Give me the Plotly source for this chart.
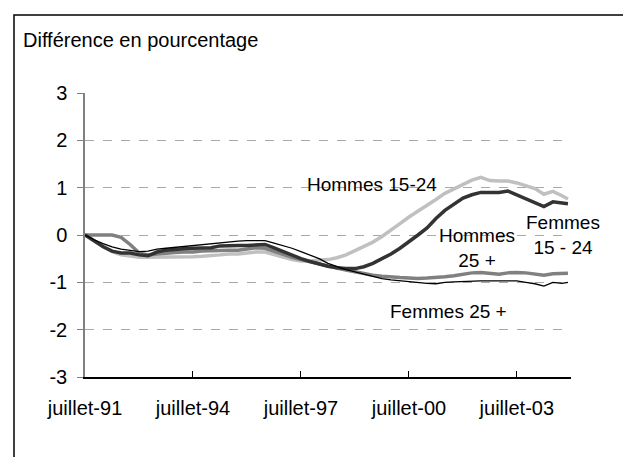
import plotly.graph_objects as go
import pandas as pd

# Quarterly dates Jul 1991 .. Oct 2004, plus Dec 2004
dates = list(pd.date_range("1991-07-01", "2004-10-01", freq="3MS").strftime("%Y-%m-%d")) + ["2004-12-01"]

hommes_15_24 = [0, -0.12, -0.25, -0.35, -0.42, -0.45, -0.47, -0.47, -0.47, -0.46,
                -0.46, -0.46, -0.46, -0.45, -0.44, -0.42, -0.40, -0.40, -0.38, -0.36,
                -0.36, -0.42, -0.48, -0.52, -0.55, -0.55, -0.53, -0.52, -0.48, -0.42,
                -0.33, -0.25, -0.15, -0.03, 0.10, 0.24, 0.38, 0.50, 0.62, 0.75,
                0.88, 0.98, 1.08, 1.16, 1.22, 1.15, 1.14, 1.14, 1.10, 1.04,
                0.98, 0.86, 0.92, 0.83, 0.76]

femmes_15_24 = [0, -0.13, -0.25, -0.34, -0.38, -0.38, -0.42, -0.44, -0.36, -0.32,
                -0.30, -0.29, -0.28, -0.28, -0.27, -0.23, -0.22, -0.22, -0.22, -0.21,
                -0.20, -0.27, -0.35, -0.42, -0.50, -0.56, -0.62, -0.66, -0.69, -0.71,
                -0.71, -0.67, -0.60, -0.50, -0.40, -0.28, -0.15, 0.00, 0.15, 0.35,
                0.52, 0.65, 0.78, 0.85, 0.90, 0.90, 0.90, 0.93, 0.85, 0.77,
                0.70, 0.60, 0.70, 0.68, 0.66]

hommes_25 = [0, 0, 0, 0, -0.05, -0.20, -0.38, -0.42, -0.40, -0.38,
             -0.37, -0.36, -0.36, -0.34, -0.33, -0.33, -0.32, -0.32, -0.30, -0.27,
             -0.28, -0.35, -0.42, -0.47, -0.52, -0.57, -0.62, -0.66, -0.70, -0.74,
             -0.78, -0.82, -0.85, -0.87, -0.89, -0.90, -0.91, -0.92, -0.91, -0.90,
             -0.88, -0.86, -0.83, -0.80, -0.79, -0.81, -0.83, -0.80, -0.79, -0.80,
             -0.82, -0.85, -0.82, -0.81, -0.81]

femmes_25 = [0, -0.10, -0.18, -0.25, -0.30, -0.33, -0.35, -0.34, -0.30, -0.28,
             -0.26, -0.24, -0.22, -0.20, -0.18, -0.16, -0.15, -0.13, -0.12, -0.12,
             -0.12, -0.17, -0.22, -0.28, -0.35, -0.42, -0.50, -0.60, -0.67, -0.73,
             -0.78, -0.83, -0.88, -0.92, -0.95, -0.97, -0.99, -1.00, -1.02, -1.03,
             -1.00, -0.99, -0.98, -0.97, -0.97, -0.97, -0.97, -0.96, -0.97, -1.00,
             -1.03, -1.08, -1.00, -1.02, -1.00]

tick_dates = ["1991-07-01", "1994-07-01", "1997-07-01", "2000-07-01", "2003-07-01"]
tick_labels = ["juillet-91", "juillet-94", "juillet-97", "juillet-00", "juillet-03"]
y_ticks = [-3, -2, -1, 0, 1, 2, 3]
y_labels = ["-3", "-2", "-1", "0", "1", "2", "3"]

FONT = "Liberation Sans, Arial, sans-serif"
FS = 20

fig = go.Figure()
fig.add_trace(go.Scatter(x=dates, y=hommes_15_24, mode="lines", name="Hommes 15-24",
                         line=dict(color="#c0c0c0", width=3.5)))
fig.add_trace(go.Scatter(x=dates, y=hommes_25, mode="lines", name="Hommes 25 +",
                         line=dict(color="#808080", width=3.5)))
fig.add_trace(go.Scatter(x=dates, y=femmes_15_24, mode="lines", name="Femmes 15 - 24",
                         line=dict(color="#333333", width=3.5)))
fig.add_trace(go.Scatter(x=dates, y=femmes_25, mode="lines", name="Femmes 25 +",
                         line=dict(color="#000000", width=1.3)))

OFF = 8  # page body margin
W, H = 623, 449
L, T = 85 - OFF, 93 - OFF
pw, ph = 486, 284
R, B = W - L - pw, H - T - ph

def px(xp):
    return (xp - OFF - L) / pw

def py(yp):
    return (T + ph - (yp - OFF)) / ph

fig.update_layout(
    width=W, height=H,
    margin=dict(l=L, r=R, t=T, b=B),
    paper_bgcolor="white", plot_bgcolor="white",
    showlegend=False,
    font=dict(family=FONT, size=FS, color="black"),
    xaxis=dict(
        type="date",
        range=["1991-07-01", "2005-01-01"],
        tickmode="array", tickvals=tick_dates, ticktext=tick_labels,
        ticks="inside", ticklen=6, tickcolor="#000000", tickwidth=1,
        showline=True, linecolor="#000000", linewidth=1.5,
        showgrid=False, zeroline=False,
        ticklabelstandoff=12,
        tickfont=dict(size=FS),
    ),
    yaxis=dict(
        range=[-3, 3],
        tickmode="array", tickvals=y_ticks, ticktext=y_labels,
        ticks="outside", ticklen=6, tickcolor="#808080", tickwidth=1,
        showline=True, linecolor="#808080", linewidth=1.5,
        showgrid=True, gridcolor="#a8a8a8", griddash="dash", gridwidth=1,
        zeroline=False,
        ticklabelstandoff=6,
        tickfont=dict(size=FS),
    ),
)

# outer frame
fig.add_shape(type="rect", xref="paper", yref="paper",
              x0=px(14), x1=px(660), y0=py(490), y1=py(15),
              line=dict(color="black", width=1.5), fillcolor="rgba(0,0,0,0)", layer="below")

fig.add_annotation(text="Différence en pourcentage", xref="paper", yref="paper",
                   x=px(21), y=py(40), xanchor="left", yanchor="middle",
                   showarrow=False, font=dict(size=FS))

labels = [
    ("Hommes 15-24", 372, 184),
    ("Hommes<br>25 +", 477, 248),
    ("Femmes<br>15 - 24", 563, 235),
    ("Femmes 25 +", 448, 311),
]
for txt, lx, ly in labels:
    fig.add_annotation(text=txt, xref="paper", yref="paper", x=px(lx), y=py(ly),
                       xanchor="center", yanchor="middle", showarrow=False,
                       font=dict(size=FS - 1), align="center")

fig.write_html("out.html")
